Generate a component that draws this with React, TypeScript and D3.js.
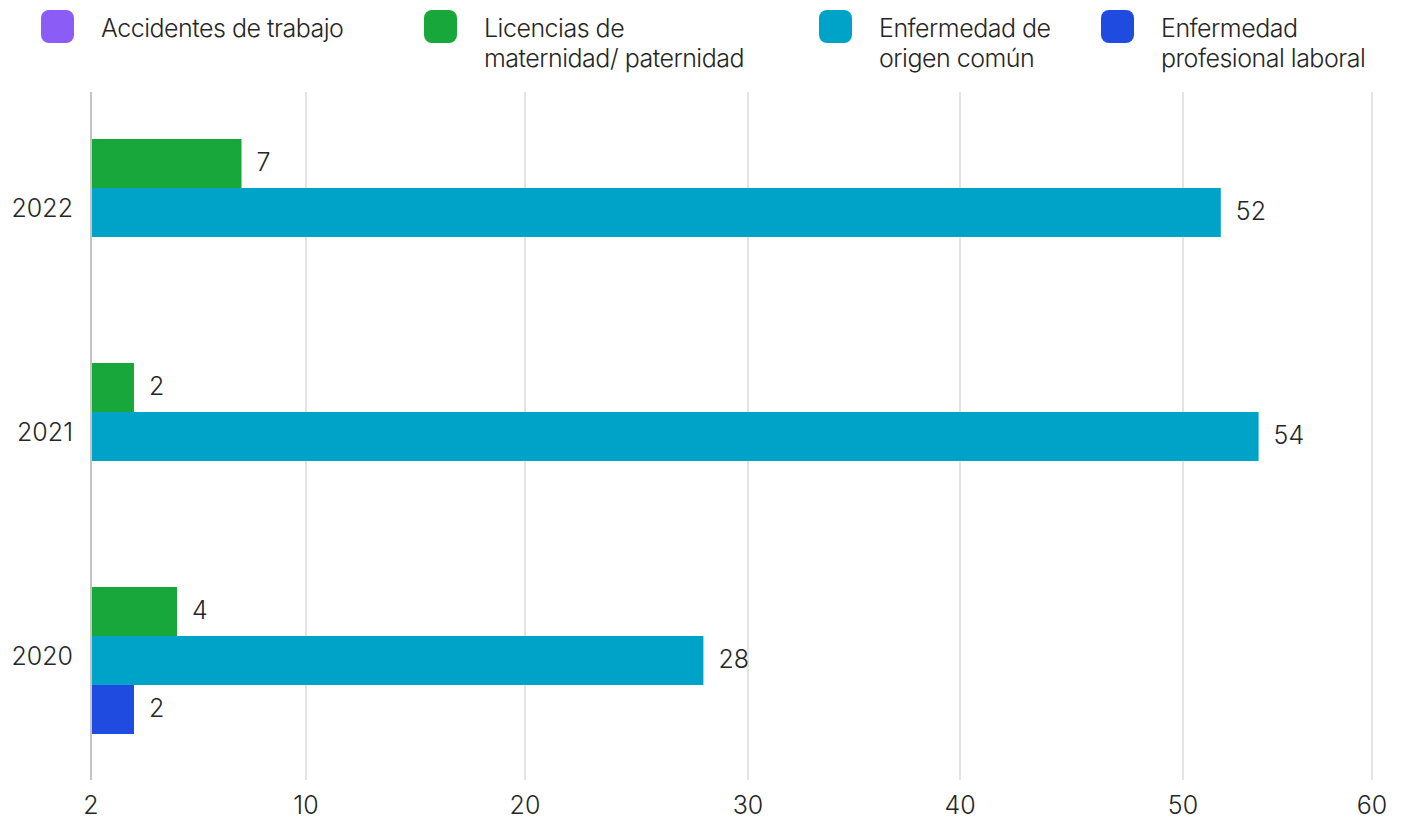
import React from "react";
import * as d3 from "d3";

// ---- data ----
const years = ["2022", "2021", "2020"];
const seriesNames = [
  "Accidentes de trabajo",
  "Licencias de maternidad/ paternidad",
  "Enfermedad de origen común",
  "Enfermedad profesional laboral",
];
const legendLines = [
  ["Accidentes de trabajo"],
  ["Licencias de", "maternidad/ paternidad"],
  ["Enfermedad de", "origen común"],
  ["Enfermedad", "profesional laboral"],
];
const accidentes = [0, 0, 0];
const licencias = [7, 2, 4];
const enfermedadComun = [52, 54, 28];
const enfermedadProfesional = [0, 0, 2];
const tickValues = [0, 10, 20, 30, 40, 50, 60];
const tickLabels = ["2", "10", "20", "30", "40", "50", "60"];
const colors = ["#8B5CF6", "#18A73A", "#00A3C8", "#204BE0"];

// ---- layout ----
const W = 1403;
const H = 820;
const GRID_X = [91, 306, 525, 748, 960, 1183, 1372];
const PLOT_TOP = 92;
const PLOT_BOTTOM = 780;
const LEGEND_X = [41, 424, 819, 1101];
const FONT = "Inter, 'Helvetica Neue', Arial, sans-serif";
const FS = 25;
const TEXT = "#262626";

export default function App() {
  const seriesValues = [accidentes, licencias, enfermedadComun, enfermedadProfesional];

  const x = d3.scaleLinear().domain(tickValues).range(GRID_X);
  const y = d3
    .scaleBand<string>()
    .domain(years)
    .range([76, 748])
    .paddingInner(0.125)
    .paddingOuter(0.0625);
  const inner = d3.scaleBand<string>().domain(seriesNames).range([0, y.bandwidth()]);

  const bars: { key: string; x0: number; x1: number; y0: number; h: number; color: string; v: number }[] = [];
  years.forEach((yr, yi) => {
    seriesNames.forEach((s, si) => {
      const v = seriesValues[si][yi];
      if (!v) return;
      bars.push({
        key: yr + s,
        x0: x(0),
        x1: x(v),
        y0: (y(yr) as number) + (inner(s) as number),
        h: inner.bandwidth(),
        color: colors[si],
        v,
      });
    });
  });

  return (
    <svg width={W} height={H} style={{ position: "absolute", left: 0, top: 0 }} fontFamily={FONT}>
      <rect width={W} height={H} fill="#fff" />
      {/* legend */}
      {legendLines.map((lines, i) => (
        <g key={i} transform={`translate(${LEGEND_X[i]},0)`}>
          <rect x={0} y={10} width={33} height={33} rx={8} fill={colors[i]} />
          {lines.map((ln, li) => (
            <text
              key={li}
              x={60}
              y={37 + li * 30}
              fontSize={FS}
              fontWeight={300}
              fill={TEXT}
              letterSpacing={-0.5}
            >
              {ln}
            </text>
          ))}
        </g>
      ))}
      {/* gridlines */}
      {tickValues.slice(1).map((t) => (
        <line
          key={t}
          x1={x(t)}
          x2={x(t)}
          y1={PLOT_TOP}
          y2={PLOT_BOTTOM}
          stroke="#dadada"
          strokeWidth={1.5}
        />
      ))}
      {/* bars */}
      {bars.map((b) => (
        <rect key={b.key} x={b.x0} y={b.y0} width={b.x1 - b.x0} height={b.h} fill={b.color} />
      ))}
      {/* value labels */}
      {bars.map((b) => (
        <text
          key={"l" + b.key}
          x={b.x1 + 15}
          y={b.y0 + b.h / 2 - 2}
          dominantBaseline="central"
          fontSize={FS}
          fontWeight={300}
          fill={TEXT}
        >
          {b.v}
        </text>
      ))}
      {/* axis line */}
      <line x1={x(0)} x2={x(0)} y1={PLOT_TOP} y2={PLOT_BOTTOM} stroke="#c4c4c4" strokeWidth={2} />
      {/* y labels */}
      {years.map((yr) => (
        <text
          key={yr}
          x={73}
          y={(y(yr) as number) + y.bandwidth() / 2 + 20}
          textAnchor="end"
          dominantBaseline="central"
          fontSize={FS}
          fontWeight={300}
          fill={TEXT}
        >
          {yr}
        </text>
      ))}
      {/* x tick labels */}
      {tickValues.map((t, i) => (
        <text
          key={t}
          x={x(t)}
          y={814}
          textAnchor="middle"
          fontSize={FS}
          fontWeight={300}
          fill={TEXT}
        >
          {tickLabels[i]}
        </text>
      ))}
    </svg>
  );
}
